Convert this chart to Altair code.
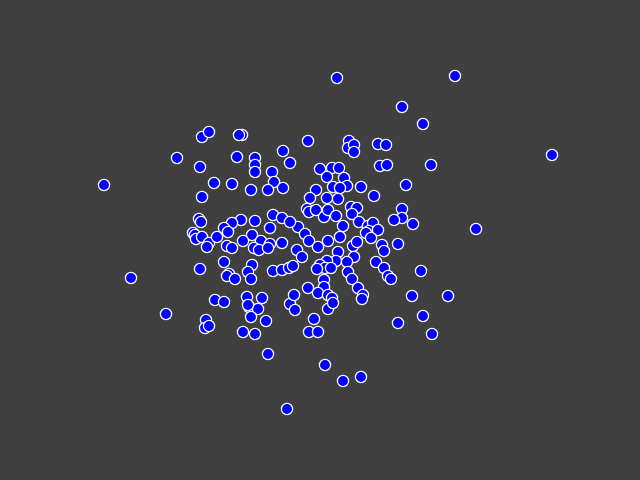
import altair as alt
import pandas as pd

xs = [337, 455, 402, 423, 552, 431, 104, 476, 131, 166, 287, 343, 361, 325, 268, 432, 423, 398, 448, 412, 421, 406, 413, 402, 402, 394,
      202, 209, 242, 239, 177, 200, 237, 214, 232, 202, 255, 255, 255, 272, 274, 283, 290, 283, 268, 251, 308,
      349, 348, 354, 354, 378, 386, 380, 387, 320, 332, 339, 327, 344, 347, 333, 340, 361, 316, 310, 327, 338, 374,
      307, 309, 316, 324, 328, 336, 351, 357, 352, 343, 359, 368, 373, 369, 366, 378, 298, 305, 309, 328, 340, 318,
      353, 357, 371, 382, 384, 398, 338, 297, 302, 354, 336, 347, 327, 320, 376, 325, 317, 331, 348, 384, 324, 352,
      388, 391, 324, 358, 308, 318, 328, 332, 363, 362, 328, 333,
      199, 201, 273, 282, 290, 241, 255, 270, 232, 224, 228, 193, 195, 196, 202, 209, 207, 217, 252, 243, 261, 270,
      254, 259, 268, 282, 227, 232, 224, 200, 252, 248, 251, 229, 227, 235, 273, 282, 289, 293, 215, 224, 247, 262,
      249, 258, 290, 294, 295,
      251, 266, 255, 243, 314, 309, 318, 206, 205, 209, 248]
ys = [78, 76, 107, 124, 155, 165, 185, 229, 278, 314, 409, 381, 377, 365, 354, 334, 316, 323, 296, 296, 271, 185, 224, 209, 218, 220,
      137, 132, 135, 135, 158, 167, 157, 183, 184, 197, 158, 165, 172, 172, 182, 151, 163, 188, 190, 190, 141,
      141, 148, 145, 152, 144, 145, 166, 165, 169, 168, 168, 177, 178, 186, 187, 188, 187, 190, 198, 198, 199, 196,
      209, 212, 210, 217, 210, 216, 207, 208, 214, 226, 222, 226, 223, 231, 233, 230, 227, 234, 241, 241, 237, 247,
      246, 242, 238, 245, 251, 244, 252, 250, 257, 257, 261, 262, 261, 265, 262, 268, 269, 268, 272, 268, 280, 279,
      276, 279, 287, 288, 288, 293, 295, 298, 295, 299, 309, 303,
      219, 222, 215, 218, 222, 220, 221, 228, 223, 228, 232, 233, 235, 239, 237, 243, 247, 237, 235, 241, 241, 244,
      248, 250, 248, 243, 246, 248, 262, 269, 265, 272, 279, 274, 276, 279, 271, 270, 268, 266, 300, 302, 297, 298,
      307, 309, 304, 295, 310,
      317, 321, 334, 332, 319, 332, 332, 320, 328, 326, 305]

df = pd.DataFrame({"x": xs, "y": ys})

chart = alt.Chart(df).mark_point(
    shape="circle", filled=True, fill="#0000ff", stroke="white", strokeWidth=1.3,
    size=125, opacity=1
).encode(
    x=alt.X("x:Q", scale=alt.Scale(domain=[0, 640], nice=False, zero=False), axis=None),
    y=alt.Y("y:Q", scale=alt.Scale(domain=[0, 480], nice=False, zero=False, reverse=True), axis=None),
).properties(
    width=640, height=480, background="#404040", padding=0,
    autosize=alt.AutoSizeParams(type="none")
).configure_view(stroke=None)

chart.save("out.html", embed_options={"renderer": "svg", "actions": False})
